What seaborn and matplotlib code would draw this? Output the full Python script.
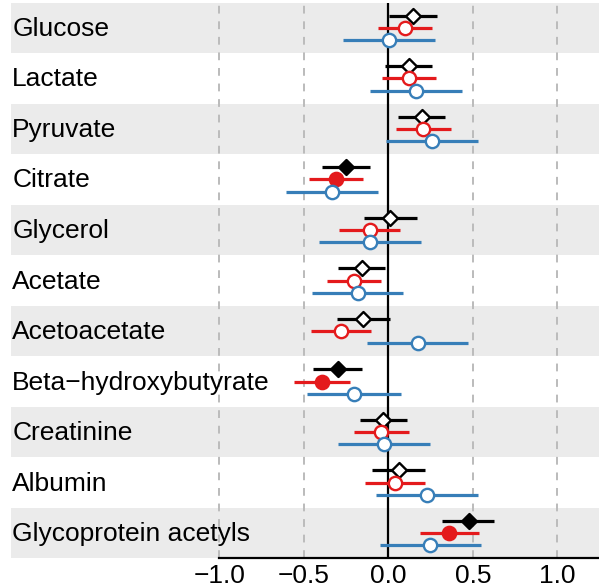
import numpy as np
import pandas as pd
import matplotlib
matplotlib.use("Agg")
import matplotlib.pyplot as plt
import seaborn as sns

# ---------- data ----------
metabolites = ["Glucose", "Lactate", "Pyruvate", "Citrate", "Glycerol", "Acetate",
               "Acetoacetate", "Beta\u2212hydroxybutyrate", "Creatinine", "Albumin",
               "Glycoprotein acetyls"]

black_est = [0.148, 0.122, 0.197, -0.250, 0.012, -0.157, -0.152, -0.298, -0.030, 0.061, 0.476]
black_lo = [0.006, -0.020, 0.057, -0.392, -0.142, -0.298, -0.305, -0.444, -0.167, -0.098, 0.318]
black_hi = [0.290, 0.260, 0.337, -0.108, 0.170, -0.018, 0.008, -0.154, 0.112, 0.217, 0.627]

red_est = [0.099, 0.122, 0.207, -0.309, -0.110, -0.205, -0.278, -0.390, -0.043, 0.040, 0.361]
red_lo = [-0.063, -0.040, 0.047, -0.471, -0.292, -0.365, -0.456, -0.560, -0.201, -0.140, 0.186]
red_hi = [0.260, 0.284, 0.369, -0.148, 0.067, -0.043, -0.102, -0.227, 0.120, 0.217, 0.535]

blue_est = [0.002, 0.164, 0.260, -0.331, -0.106, -0.181, 0.174, -0.205, -0.024, 0.229, 0.247]
blue_lo = [-0.270, -0.106, -0.014, -0.604, -0.408, -0.453, -0.128, -0.481, -0.296, -0.073, -0.049]
blue_hi = [0.276, 0.436, 0.529, -0.061, 0.192, 0.089, 0.473, 0.077, 0.247, 0.531, 0.547]

# filled marker = significant (as drawn in the reference)
black_sig = [False, False, False, True, False, False, False, True, False, False, True]
red_sig = [False, False, False, True, False, False, False, True, False, False, True]
blue_sig = [False] * 11

# ---------- styling ----------
COLORS = {"black": "#000000", "red": "#E41A1C", "blue": "#377EB8"}
MARKERS = {"black": "D", "red": "o", "blue": "o"}
OFFSETS = {"black": -0.24, "red": 0.0, "blue": 0.24}
SIZES = {"black": 58, "red": 92, "blue": 92}

series = {
    "black": (black_est, black_lo, black_hi, black_sig),
    "red": (red_est, red_lo, red_hi, red_sig),
    "blue": (blue_est, blue_lo, blue_hi, blue_sig),
}

rows = []
for name, (est, lo, hi, sig) in series.items():
    for i, m in enumerate(metabolites):
        rows.append(dict(series=name, metabolite=m, y=i + OFFSETS[name],
                         est=est[i], lo=lo[i], hi=hi[i], sig=sig[i]))
df = pd.DataFrame(rows)

sns.set_theme(style="white")
plt.rcParams["font.family"] = ["Liberation Sans", "DejaVu Sans"]

fig = plt.figure(figsize=(5.99, 5.88), dpi=100)
ax = fig.add_axes([11 / 599, 1 - 558.3 / 588, 1 - 11 / 599, (558.3 - 2.7) / 588])

n = len(metabolites)
# alternating grey bands
for i in range(0, n, 2):
    ax.axhspan(i - 0.5, i + 0.5, color="#EBEBEB", lw=0, zorder=0)

for xv in [-1.0, -0.5, 0.5, 1.0]:
    ax.axvline(xv, color="#BBBBBB", lw=1.4, ls=(0, (4, 4)), zorder=1)
ax.axvline(0, color="black", lw=1.6, zorder=2)

for name in ["black", "red", "blue"]:
    d = df[df.series == name]
    ax.hlines(d.y, d.lo, d.hi, color=COLORS[name], lw=2.3, zorder=3)
    for sig, sub in d.groupby("sig"):
        sns.scatterplot(data=sub, x="est", y="y", ax=ax, marker=MARKERS[name],
                        s=SIZES[name], color=COLORS[name] if sig else "white",
                        edgecolor=COLORS[name], linewidth=1.7, zorder=4, legend=False)

for i, m in enumerate(metabolites):
    ax.text(0.002, i + 0.02, m, transform=ax.get_yaxis_transform(), ha="left", va="center",
            fontsize=19, color="black", zorder=5)

ax.set_xlim(-2.233, 1.247)
ax.set_ylim(n - 0.5, -0.5)
ax.set_xticks([-1.0, -0.5, 0.0, 0.5, 1.0])
ax.set_xticklabels(["\u22121.0", "\u22120.5", "0.0", "0.5", "1.0"])
ax.set_yticks([])
ax.set_xlabel("")
ax.set_ylabel("")
ax.tick_params(axis="x", length=0, pad=4, labelsize=19, colors="black")
for s in ["top", "left", "right"]:
    ax.spines[s].set_visible(False)
ax.spines["bottom"].set_color("black")
ax.spines["bottom"].set_linewidth(1.6)
ax.spines["bottom"].set_bounds(-1.0, 1.247)

fig.savefig("out.png", dpi=100)
